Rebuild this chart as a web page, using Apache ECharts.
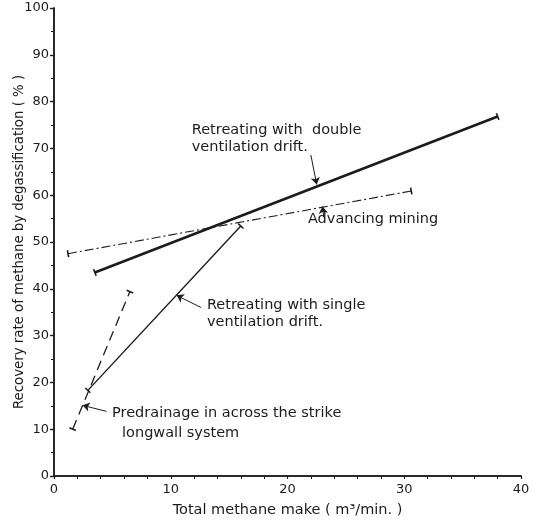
<!DOCTYPE html>
<html><head><meta charset="utf-8">
<script src="https://cdn.jsdelivr.net/npm/echarts@6/dist/echarts.min.js"></script>
<style>html,body{margin:0;padding:0;background:#fff}#c{width:533px;height:524px}</style>
</head><body><div id="c"></div>
<script>
// ---- data ----
const xTicks = [0, 10, 20, 30, 40];
const yTicks = [0, 10, 20, 30, 40, 50, 60, 70, 80, 90, 100];

const doubleDriftX = [3.5, 38.0];
const doubleDriftY = [43.5, 76.8];
const advancingX = [1.2, 30.6];
const advancingY = [47.5, 60.9];
const singleDriftX = [2.9, 16.0];
const singleDriftY = [18.3, 53.4];
const predrainageX = [1.6, 6.5];
const predrainageY = [10.0, 39.4];

const xTitle = 'Total methane make ( m³/min. )';
const yTitle = 'Recovery rate of methane by degassification ( % )';

// annotation texts (anchor = left / middle, in data units)
const labelTexts = ['Retreating with  double\nventilation drift.', 'Advancing mining',
  'Retreating with single\nventilation drift.', 'Predrainage in across the strike', 'longwall system'];
const labelX = [11.8, 21.75, 13.1, 4.97, 5.83];
const labelY = [72.1, 54.9, 34.7, 13.4, 9.1];

// leader arrows [fromX, fromY, toX, toY]
const arrowFromX = [22.0, 23.1, 12.6, 4.5];
const arrowFromY = [68.6, 55.4, 36.0, 13.8];
const arrowToX = [22.5, 23.0, 10.5, 2.45];
const arrowToY = [62.3, 57.6, 38.6, 15.1];

// ---- chart ----
const FONT = 'DejaVu Sans';
const INK = '#1c1c1c';
const zip = (a, b) => a.map((v, i) => [v, b[i]]);

const seriesDefs = [
  { name: 'Retreating with double ventilation drift', x: doubleDriftX, y: doubleDriftY, width: 2.6, type: 'solid' },
  { name: 'Advancing mining', x: advancingX, y: advancingY, width: 1.1, type: [9, 3, 2, 3] },
  { name: 'Retreating with single ventilation drift', x: singleDriftX, y: singleDriftY, width: 1.4, type: 'solid' },
  { name: 'Predrainage in across the strike longwall system', x: predrainageX, y: predrainageY, width: 1.3, type: [10, 6] }
];

const chart = echarts.init(document.getElementById('c'), null, { renderer: 'canvas' });

const axisCommon = {
  axisLine: { show: true, lineStyle: { color: INK, width: 1.5 } },
  splitLine: { show: false },
};

function buildOption(rotations, graphics) {
  return {
    animation: false,
    backgroundColor: '#fff',
    grid: { left: 54, right: 12, top: 8, bottom: 48, containLabel: false, outerBoundsMode: 'none' },
    xAxis: [
      Object.assign({}, axisCommon, {
        type: 'value', position: 'bottom', min: xTicks[0], max: xTicks[xTicks.length - 1], interval: 10,
        axisTick: { show: true, length: 3, lineStyle: { color: INK, width: 1.2 } },
        minorTick: { show: true, splitNumber: 5, length: 3, lineStyle: { color: INK, width: 1 } },
        axisLabel: { fontFamily: FONT, fontSize: 13, color: INK, margin: 7 },
        name: xTitle, nameLocation: 'middle', nameGap: 27, nameMoveOverlap: false,
        nameTextStyle: { fontFamily: FONT, fontSize: 14.5, color: INK }
      }),
      Object.assign({}, axisCommon, {
        type: 'value', position: 'top', min: xTicks[0], max: xTicks[xTicks.length - 1], interval: 10,
        axisTick: { show: false }, axisLabel: { show: false }
      })
    ],
    yAxis: [
      Object.assign({}, axisCommon, {
        type: 'value', position: 'left', min: yTicks[0], max: yTicks[yTicks.length - 1], interval: 10,
        axisTick: { show: true, length: 4, lineStyle: { color: INK, width: 1.2 } },
        minorTick: { show: true, splitNumber: 2, length: 3, lineStyle: { color: INK, width: 1 } },
        axisLabel: { fontFamily: FONT, fontSize: 13, color: INK, margin: 5 },
        name: yTitle, nameLocation: 'middle', nameGap: 28, nameRotate: 90, nameMoveOverlap: false,
        nameTextStyle: { fontFamily: FONT, fontSize: 13.3, color: INK }
      }),
      Object.assign({}, axisCommon, {
        type: 'value', position: 'right', min: yTicks[0], max: yTicks[yTicks.length - 1], interval: 10,
        axisTick: { show: true, inside: true, length: 4, lineStyle: { color: INK, width: 1.2 } },
        axisLabel: { show: false }
      })
    ],
    series: seriesDefs.map((s, i) => ({
      name: s.name, type: 'line', xAxisIndex: 0, yAxisIndex: 0,
      data: zip(s.x, s.y),
      symbol: 'rect', symbolSize: [1.6, 7], symbolRotate: rotations ? rotations[i] : 0,
      showSymbol: true, silent: true,
      lineStyle: { color: INK, width: s.width, type: s.type },
      itemStyle: { color: INK }
    })).concat([{
      type: 'line', data: [], silent: true,
      markLine: {
        silent: true, symbol: ['none', 'arrow'], symbolSize: 7,
        label: { show: false },
        lineStyle: { color: INK, width: 1, type: 'solid' },
        data: arrowFromX.map((v, i) => [{ coord: [v, arrowFromY[i]] }, { coord: [arrowToX[i], arrowToY[i]] }])
      }
    }]),
    graphic: graphics || []
  };
}

chart.setOption(buildOption(null, []));

const rotations = seriesDefs.map(s => {
  const p1 = chart.convertToPixel({ gridIndex: 0 }, [s.x[0], s.y[0]]);
  const p2 = chart.convertToPixel({ gridIndex: 0 }, [s.x[1], s.y[1]]);
  return Math.atan2(-(p2[1] - p1[1]), p2[0] - p1[0]) * 180 / Math.PI;
});

const graphics = labelTexts.map((t, i) => {
  const p = chart.convertToPixel({ gridIndex: 0 }, [labelX[i], labelY[i]]);
  return {
    type: 'text', x: p[0], y: p[1], silent: true,
    style: { text: t, fontFamily: FONT, fontSize: 14.5, fill: INK, textAlign: 'left', textVerticalAlign: 'middle', lineHeight: 17 }
  };
});

chart.setOption(buildOption(rotations, graphics), { replaceMerge: ['graphic'] });
</script>
</body></html>
